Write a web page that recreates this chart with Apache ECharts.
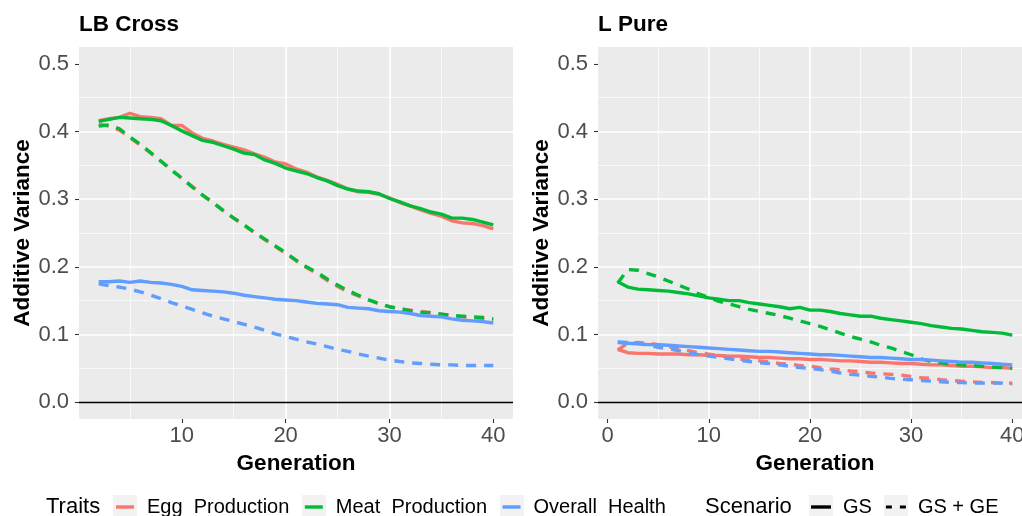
<!DOCTYPE html>
<html><head><meta charset="utf-8">
<script src="https://cdn.jsdelivr.net/npm/echarts@6/dist/echarts.min.js"></script>
<style>html,body{margin:0;padding:0;background:#fff}#c{width:1022px;height:516px}</style>
</head><body><div id="c"></div>
<script>
// ---------------- data ----------------
const panelTitles = ['LB Cross', 'L Pure'];
const traits = ['Egg  Production', 'Meat  Production', 'Overall  Health'];
const scenarios = ['GS', 'GS + GE'];
const yTicks = [0, 0.1, 0.2, 0.3, 0.4, 0.5];
const xTicksLB = [10, 20, 30, 40];
const xTicksL = [0, 10, 20, 30, 40];

const genLB = [2,3,4,5,6,7,8,9,10,11,12,13,14,15,16,17,18,19,20,21,22,23,24,25,26,27,28,29,30,31,32,33,34,35,36,37,38,39,40];
const genL = [1,2,3,4,5,6,7,8,9,10,11,12,13,14,15,16,17,18,19,20,21,22,23,24,25,26,27,28,29,30,31,32,33,34,35,36,37,38,39,40];

// LB Cross
const lbEggGS = [0.416,0.419,0.421,0.427,0.422,0.421,0.419,0.409,0.409,0.398,0.390,0.386,0.381,0.377,0.373,0.367,0.362,0.355,0.352,0.345,0.340,0.333,0.328,0.322,0.315,0.311,0.310,0.307,0.302,0.295,0.290,0.284,0.279,0.275,0.268,0.265,0.264,0.261,0.256];
const lbEggGE = [0.411,0.408,0.402,0.391,0.380,0.368,0.356,0.344,0.331,0.319,0.306,0.295,0.283,0.272,0.261,0.251,0.240,0.230,0.220,0.209,0.199,0.190,0.180,0.171,0.163,0.157,0.151,0.145,0.141,0.138,0.136,0.134,0.132,0.130,0.128,0.126,0.125,0.123,0.121];
const lbMeatGS = [0.415,0.418,0.421,0.420,0.419,0.418,0.416,0.409,0.401,0.394,0.387,0.384,0.379,0.374,0.368,0.366,0.358,0.353,0.346,0.342,0.338,0.332,0.327,0.320,0.315,0.312,0.311,0.308,0.301,0.296,0.290,0.286,0.281,0.278,0.272,0.272,0.270,0.266,0.262];
const lbMeatGE = [0.408,0.410,0.404,0.392,0.381,0.369,0.356,0.343,0.331,0.318,0.306,0.295,0.283,0.272,0.262,0.251,0.241,0.231,0.221,0.210,0.200,0.192,0.182,0.173,0.165,0.158,0.151,0.146,0.141,0.138,0.135,0.133,0.132,0.130,0.128,0.127,0.126,0.125,0.123];
const lbHealthGS = [0.178,0.178,0.179,0.177,0.179,0.177,0.176,0.174,0.171,0.166,0.165,0.164,0.163,0.161,0.158,0.156,0.154,0.152,0.151,0.150,0.148,0.146,0.145,0.144,0.140,0.139,0.138,0.135,0.134,0.133,0.131,0.128,0.127,0.126,0.123,0.121,0.120,0.119,0.117];
const lbHealthGE = [0.175,0.172,0.170,0.167,0.163,0.158,0.153,0.147,0.142,0.137,0.132,0.127,0.123,0.119,0.115,0.111,0.106,0.101,0.097,0.093,0.089,0.086,0.082,0.078,0.075,0.071,0.068,0.065,0.062,0.060,0.058,0.057,0.056,0.055,0.055,0.054,0.054,0.054,0.054];

// L Pure
const lEggGS = [0.078,0.073,0.072,0.072,0.071,0.071,0.071,0.070,0.070,0.069,0.069,0.068,0.068,0.067,0.066,0.066,0.065,0.064,0.064,0.063,0.063,0.062,0.061,0.061,0.060,0.059,0.059,0.058,0.057,0.057,0.056,0.055,0.055,0.054,0.053,0.053,0.052,0.051,0.051,0.050];
const lEggGE = [0.077,0.087,0.088,0.087,0.085,0.082,0.079,0.076,0.073,0.071,0.069,0.066,0.064,0.062,0.061,0.059,0.057,0.056,0.054,0.053,0.051,0.049,0.048,0.046,0.045,0.043,0.042,0.041,0.040,0.038,0.036,0.035,0.033,0.032,0.031,0.030,0.029,0.029,0.028,0.028];
const lMeatGS = [0.178,0.170,0.167,0.166,0.165,0.164,0.162,0.160,0.157,0.154,0.152,0.150,0.150,0.147,0.145,0.143,0.141,0.138,0.140,0.136,0.136,0.134,0.131,0.129,0.127,0.127,0.124,0.122,0.120,0.118,0.116,0.113,0.111,0.109,0.108,0.106,0.104,0.103,0.102,0.099];
const lMeatGE = [0.176,0.196,0.195,0.190,0.185,0.179,0.173,0.167,0.160,0.155,0.149,0.145,0.141,0.137,0.134,0.131,0.128,0.124,0.120,0.116,0.112,0.107,0.102,0.097,0.093,0.089,0.084,0.080,0.075,0.070,0.064,0.060,0.058,0.056,0.055,0.054,0.053,0.052,0.051,0.050];
const lHealthGS = [0.088,0.087,0.086,0.085,0.085,0.084,0.083,0.082,0.081,0.080,0.079,0.078,0.077,0.076,0.075,0.075,0.074,0.073,0.072,0.071,0.070,0.070,0.069,0.068,0.067,0.066,0.066,0.065,0.064,0.063,0.063,0.062,0.061,0.060,0.059,0.059,0.058,0.057,0.056,0.055];
const lHealthGE = [0.089,0.088,0.087,0.084,0.081,0.079,0.076,0.073,0.070,0.068,0.066,0.064,0.062,0.060,0.058,0.057,0.055,0.053,0.051,0.050,0.048,0.046,0.043,0.041,0.040,0.038,0.037,0.035,0.034,0.033,0.032,0.031,0.030,0.029,0.029,0.028,0.028,0.028,0.028,0.027];

// ---------------- chart ----------------
const FONT = '"Liberation Sans", Arial, Helvetica, sans-serif';
const traitColors = ['#F8766D', '#00BA38', '#619CFF'];
const LW = 3.4;
const DASH = [10, 8];
const panels = [
  { gen: genLB, vals: [[lbEggGS, lbEggGE], [lbMeatGS, lbMeatGE], [lbHealthGS, lbHealthGE]], xmin: 0.1, xmax: 41.9, xticks: xTicksLB, left: 79 },
  { gen: genL, vals: [[lEggGS, lEggGE], [lMeatGS, lMeatGE], [lHealthGS, lHealthGE]], xmin: -0.95, xmax: 41.95, xticks: xTicksL, left: 598 }
];

const grids = [], xAxes = [], yAxes = [], series = [], titles = [];
panels.forEach((p, pi) => {
  grids.push({ left: p.left, top: 47, width: 434, height: 372, show: true, backgroundColor: '#EBEBEB', borderWidth: 0, containLabel: false, outerBoundsMode: 'none' });
  titles.push({ text: panelTitles[pi], left: p.left, top: 13, padding: 0, textStyle: { fontFamily: FONT, fontSize: 22.5, fontWeight: 'bold', color: '#000' } });
  xAxes.push({
    type: 'value', gridIndex: pi, min: p.xmin, max: p.xmax, splitNumber: 5,
    name: 'Generation', nameLocation: 'middle', nameGap: 33,
    nameTextStyle: { fontFamily: FONT, fontSize: 22.5, fontWeight: 'bold', color: '#000' },
    axisLine: { show: false, onZero: false },
    axisTick: { show: true, inside: false, length: 4, customValues: p.xticks, lineStyle: { color: '#333', width: 1.1 } },
    axisLabel: { show: true, margin: 6, customValues: p.xticks,
      fontFamily: FONT, fontSize: 22, color: '#4D4D4D',
      formatter: v => (Math.abs(v / 10 - Math.round(v / 10)) < 1e-6 ? String(Math.round(v)) : '') },
    splitLine: { show: true, showMinLine: false, showMaxLine: false, lineStyle: { color: '#FFFFFF', width: 1.6 } },
    minorTick: { show: false, splitNumber: 2 },
    minorSplitLine: { show: true, lineStyle: { color: '#FFFFFF', width: 0.7 } }
  });
  yAxes.push({
    type: 'value', gridIndex: pi, min: -0.025, max: 0.525, splitNumber: 5,
    name: 'Additive Variance', nameLocation: 'middle', nameGap: 45,
    nameTextStyle: { fontFamily: FONT, fontSize: 22.5, fontWeight: 'bold', color: '#000' },
    axisLine: { show: false, onZero: false },
    axisTick: { show: true, inside: false, length: 4, customValues: yTicks, lineStyle: { color: '#333', width: 1.1 } },
    axisLabel: { show: true, margin: 10, customValues: yTicks,
      fontFamily: FONT, fontSize: 22, color: '#4D4D4D',
      formatter: v => (Math.abs(v * 10 - Math.round(v * 10)) < 1e-6 ? v.toFixed(1) : '') },
    splitLine: { show: true, showMinLine: false, showMaxLine: false, lineStyle: { color: '#FFFFFF', width: 1.6 } },
    minorTick: { show: false, splitNumber: 2 },
    minorSplitLine: { show: true, lineStyle: { color: '#FFFFFF', width: 0.7 } }
  });
  traits.forEach((t, ti) => {
    scenarios.forEach((s, si) => {
      const vals = p.vals[ti][si];
      const ser = {
        type: 'line', name: t, xAxisIndex: pi, yAxisIndex: pi,
        data: p.gen.map((g, i) => [g, vals[i]]),
        showSymbol: false, symbol: 'none', silent: true,
        color: traitColors[ti],
        lineStyle: { color: traitColors[ti], width: LW, type: si === 0 ? 'solid' : DASH, cap: 'butt', join: 'round' }
      };
      if (ti === 0 && si === 0) {
        ser.markLine = { silent: true, symbol: 'none', animation: false, label: { show: false },
          lineStyle: { color: '#000', width: 1.4, type: 'solid' }, data: [{ yAxis: 0 }] };
      }
      series.push(ser);
    });
  });
});
// dummy series for Scenario legend
scenarios.forEach((s, si) => {
  series.push({ type: 'line', name: s, xAxisIndex: 0, yAxisIndex: 0, data: [], symbol: 'none', color: '#000',
    lineStyle: { color: '#000', width: LW, type: si === 0 ? 'solid' : DASH } });
});

const legendText = { fontFamily: FONT, fontSize: 20, color: '#000', padding: [0, 0, 0, 8] };
const option = {
  animation: false,
  backgroundColor: '#FFFFFF',
  title: titles,
  grid: grids,
  xAxis: xAxes,
  yAxis: yAxes,
  series: series,
  legend: [
    { data: traits.map(n => ({ name: n, icon: 'rect' })), left: 116, top: 497, padding: 0, itemWidth: 18, itemHeight: 3.4, itemGap: 15.5,
      selectedMode: false, itemStyle: { borderWidth: 0 }, textStyle: legendText },
    { data: [{ name: 'GS', icon: 'rect' }, { name: 'GS + GE', icon: 'path://M0,0h6v3h-6zM14,0h6v3h-6z' }], left: 811, top: 497, padding: 0,
      itemWidth: 20, itemHeight: 3.4, itemGap: 14, selectedMode: false, itemStyle: { borderWidth: 0 },
      textStyle: Object.assign({}, legendText, { padding: [0, 0, 0, 7] }) }
  ],
  graphic: [
    { type: 'text', left: 46, top: 496, style: { text: 'Traits', fontFamily: FONT, fontSize: 22, fill: '#000' } },
    { type: 'text', left: 705, top: 496, style: { text: 'Scenario', fontFamily: FONT, fontSize: 22, fill: '#000' } },
    { type: 'rect', shape: { x: 113, y: 495, width: 24, height: 24 }, style: { fill: '#F2F2F2' }, z: 0 },
    { type: 'rect', shape: { x: 302, y: 495, width: 24, height: 24 }, style: { fill: '#F2F2F2' }, z: 0 },
    { type: 'rect', shape: { x: 500, y: 495, width: 24, height: 24 }, style: { fill: '#F2F2F2' }, z: 0 },
    { type: 'rect', shape: { x: 809, y: 495, width: 24, height: 24 }, style: { fill: '#F2F2F2' }, z: 0 },
    { type: 'rect', shape: { x: 884, y: 495, width: 24, height: 24 }, style: { fill: '#F2F2F2' }, z: 0 }
  ]
};
const chart = echarts.init(document.getElementById('c'), null, { renderer: 'canvas' });
chart.setOption(option);
</script>
</body></html>
